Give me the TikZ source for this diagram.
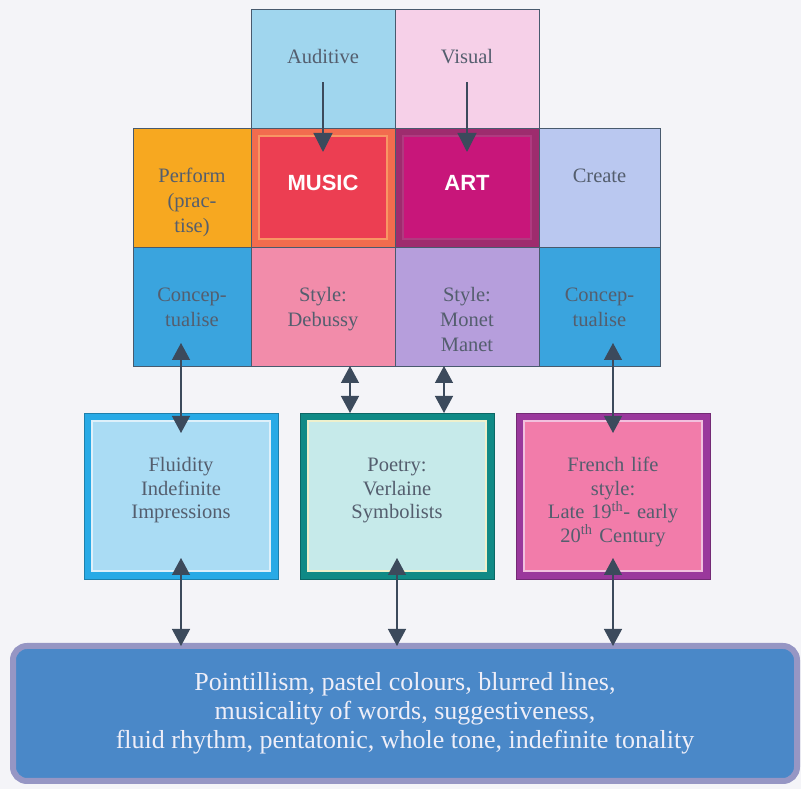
\documentclass[tikz,border=0pt]{standalone}
\usepackage{fontspec}
\setmainfont{Liberation Serif}
\newfontfamily\headsans{Liberation Sans}
\usepackage{xcolor}
\usepackage{tikz}
\usetikzlibrary{arrows.meta,positioning,calc}
\definecolor{pagebg}{RGB}{244,244,248}
\definecolor{gridline}{RGB}{72,90,110}
\definecolor{inkgray}{RGB}{84,94,110}
\definecolor{arrowgray}{RGB}{60,74,92}
\definecolor{audfill}{RGB}{160,214,238}
\definecolor{visfill}{RGB}{246,208,232}
\definecolor{performfill}{RGB}{247,168,32}
\definecolor{musicrim}{RGB}{242,108,78}
\definecolor{musicred}{RGB}{236,62,82}
\definecolor{musicline}{RGB}{248,150,100}
\definecolor{artrim}{RGB}{158,44,110}
\definecolor{artmag}{RGB}{200,22,122}
\definecolor{artline}{RGB}{176,58,128}
\definecolor{createfill}{RGB}{186,200,240}
\definecolor{concfill}{RGB}{58,164,222}
\definecolor{debfill}{RGB}{242,140,170}
\definecolor{monfill}{RGB}{182,158,220}
\definecolor{fluidband}{RGB}{40,170,230}
\definecolor{fluidfill}{RGB}{170,220,244}
\definecolor{fluidline}{RGB}{222,240,250}
\definecolor{poetband}{RGB}{16,138,134}
\definecolor{poetfill}{RGB}{198,234,234}
\definecolor{poetline}{RGB}{238,240,204}
\definecolor{frenchband}{RGB}{154,56,156}
\definecolor{frenchfill}{RGB}{242,124,170}
\definecolor{frenchline}{RGB}{242,192,222}
\definecolor{sumfill}{RGB}{74,136,200}
\definecolor{sumrim}{RGB}{150,150,196}
\definecolor{sumtext}{RGB}{238,238,248}
\tikzset{
  cell/.style={
    rectangle, draw=gridline, line width=0.8pt,
    outer sep=0pt, inner sep=0pt,
    minimum width=#1, text width=108pt, align=center,
    text height=55pt, text depth=64pt,
    text=inkgray, font=\fontsize{20.5}{25}\selectfont
  },
  hubcell/.style n args={3}{
    cell=144pt, fill=#1,
    path picture={
      \fill[#2, draw=#3, line width=1.2pt]
        ($(path picture bounding box.north west)+(8,-8)$) rectangle
        ($(path picture bounding box.south east)+(-8,8)$);
    },
    text height=63pt, text depth=56pt,
    text=white, font=\headsans\bfseries\fontsize{22}{26}\selectfont
  },
  panel/.style n args={3}{
    rectangle, fill=#1, draw=#1!75!black, line width=0.6pt,
    outer sep=0pt, inner sep=0pt,
    minimum width=194pt, minimum height=166pt,
    text width=172pt, align=center,
    text height=59pt, text depth=107pt,
    text=inkgray, font=\fontsize{20.5}{23.5}\selectfont,
    path picture={
      \fill[#2, draw=#3, line width=1.2pt]
        ($(path picture bounding box.north west)+(8,-8)$) rectangle
        ($(path picture bounding box.south east)+(-8,8)$);
    }
  },
  summary/.style={
    rectangle, rounded corners=14pt,
    fill=sumfill, draw=sumrim, line width=6pt,
    minimum width=784pt, minimum height=135pt, inner sep=0pt,
    align=center, text=sumtext, font=\fontsize{26}{29}\selectfont
  },
  flow/.style={-{Triangle[length=19pt,width=19pt]}, line width=1.3pt, draw=arrowgray, fill=arrowgray},
  flowboth/.style={{Triangle[length=17pt,width=18pt]}-{Triangle[length=17pt,width=18pt]}, line width=1.3pt, draw=arrowgray, fill=arrowgray}
}
\begin{document}
\begin{tikzpicture}[x=1pt,y=1pt]

\path[use as bounding box, fill=pagebg] (0,0) rectangle (801,789);

% ---- MUSIC / ART (middle row, the rest hangs off these) ----
\node[hubcell={musicrim}{musicred}{musicline}] (music) at (323,601.5) {MUSIC};
\node[hubcell={artrim}{artmag}{artline}, right=0pt of music] (art) {ART};
\node[cell=118pt, fill=performfill, left=0pt of music] (perform) {Perform\\(prac-\\tise)};
\node[cell=121pt, fill=createfill, right=0pt of art] (create) {Create};

% ---- senses ----
\node[cell=144pt, fill=audfill, above=0pt of music] (auditive) {Auditive};
\node[cell=144pt, fill=visfill, above=0pt of art] (visual) {Visual};

% ---- lower row of the grid ----
\node[cell=118pt, fill=concfill, below=0pt of perform] (conceptL) {Concep-\\tualise};
\node[cell=144pt, fill=debfill, below=0pt of music] (debussy) {Style:\\Debussy};
\node[cell=144pt, fill=monfill, below=0pt of art] (monet) {Style:\\Monet\\Manet};
\node[cell=121pt, fill=concfill, below=0pt of create] (conceptR) {Concep-\\tualise};

% ---- themes ----
\node[panel={poetband}{poetfill}{poetline}] (poetry) at (397,293) {Poetry:\\Verlaine\\Symbolists};
\node[panel={fluidband}{fluidfill}{fluidline}, left=22pt of poetry] (fluidity) {Fluidity\\Indefinite\\Impressions};
\node[panel={frenchband}{frenchfill}{frenchline}, right=22pt of poetry] (french)
  {French life\\style:\\Late 19\textsuperscript{th}- early\\20\textsuperscript{th} Century};

% ---- summary ----
\node[summary] (summary) at (405,75.5) {
  Pointillism, pastel colours, blurred lines,\\
  musicality of words, suggestiveness,\\
  fluid rhythm, pentatonic, whole tone, indefinite tonality
};

% ---- arrows ----
\draw[flow] ([yshift=-14pt]auditive.center) -- ([yshift=-24pt]music.north);
\draw[flow] ([yshift=-14pt]visual.center) -- ([yshift=-24pt]art.north);

\draw[flowboth] ([yshift=-20pt]fluidity.north) -- ($(fluidity.north |- conceptL.south)+(0,23)$);
\draw[flowboth] ($(poetry.north)+(-47,0)$) -- ($(poetry.north |- debussy.south)+(-47,0)$);
\draw[flowboth] ($(poetry.north)+(47,0)$) -- ($(poetry.north |- monet.south)+(47,0)$);
\draw[flowboth] ([yshift=-20pt]french.north) -- ($(french.north |- conceptR.south)+(0,23)$);

\foreach \src in {fluidity,poetry,french}
  \draw[flowboth] ([yshift=21pt]\src.south) -- ($(\src.south |- summary.north)+(0,-3)$);

\end{tikzpicture}
\end{document}
